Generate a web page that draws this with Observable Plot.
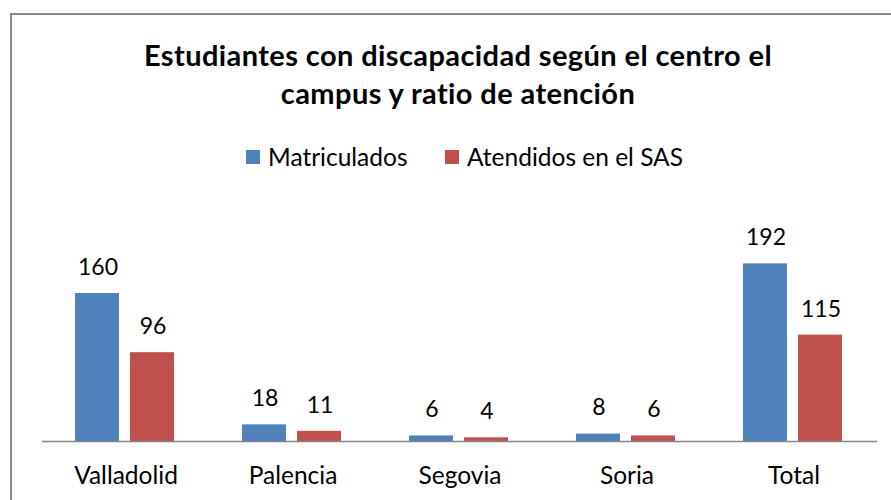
<!DOCTYPE html>
<html><head><meta charset="utf-8">
<script src="https://cdn.jsdelivr.net/npm/d3@7"></script>
<script src="https://cdn.jsdelivr.net/npm/@observablehq/plot@0.6"></script>
<style>
body{margin:0;background:#fff;font-family:Lato,"Open Sans",sans-serif}
#wrap{position:relative;width:891px;height:500px;overflow:hidden;background:#fff}
#frame{position:absolute;left:10px;top:13px;width:1000px;height:1000px;border:2px solid #8a8a8a;box-sizing:border-box}
.t{position:absolute;left:0;width:916px;text-align:center;font-weight:bold;font-size:29px;letter-spacing:0.4px;color:#000;line-height:29px;white-space:nowrap}
.sw{position:absolute;width:14px;height:14px}
.lt{position:absolute;font-size:24.5px;line-height:25px;color:#000;white-space:nowrap}
#chart{position:absolute;left:0;top:0}
</style></head>
<body>
<div id="wrap">
  <div id="frame"></div>
  <div class="t" id="t1" style="top:40px"></div>
  <div class="t" id="t2" style="top:78px"></div>
  <div id="legend"></div>
  <div id="chart"></div>
</div>
<script>
const titleLines = ["Estudiantes con discapacidad según el centro el", "campus y ratio de atención"];
const categories = ["Valladolid", "Palencia", "Segovia", "Soria", "Total"];
const series = ["Matriculados", "Atendidos en el SAS"];
const matriculados = [160, 18, 6, 8, 192];
const atendidos = [96, 11, 4, 6, 115];
const colors = ["#4F81BD", "#C0504D"];

document.getElementById("t1").textContent = titleLines[0];
document.getElementById("t2").textContent = titleLines[1];

// legend
const legend = document.getElementById("legend");
const legendPos = [{sw: 246, tx: 268}, {sw: 445, tx: 467}];
series.forEach((s, i) => {
  const sw = document.createElement("div");
  sw.className = "sw";
  sw.style.left = legendPos[i].sw + "px";
  sw.style.top = "150px";
  sw.style.background = colors[i];
  legend.appendChild(sw);
  const tx = document.createElement("div");
  tx.className = "lt";
  tx.style.left = legendPos[i].tx + "px";
  tx.style.top = "144px";
  tx.textContent = s;
  legend.appendChild(tx);
});

const data = [];
categories.forEach((c, i) => {
  data.push({cat: c, series: series[0], value: matriculados[i]});
  data.push({cat: c, series: series[1], value: atendidos[i]});
});

const chart = Plot.plot({
  width: 891,
  height: 500,
  marginLeft: 41,
  marginRight: 14,
  marginTop: 256,
  marginBottom: 59,
  style: {background: "transparent", color: "#000", fontFamily: "Lato, 'Open Sans', sans-serif", overflow: "visible"},
  fx: {domain: categories, padding: 0, label: null},
  x: {domain: series, paddingInner: 0.214, paddingOuter: 0.6, axis: null},
  y: {domain: [0, 200], axis: null},
  color: {domain: series, range: colors},
  marks: [
    Plot.barY(data, {fx: "cat", x: "series", y: "value", fill: "series", insetLeft: -1}),
    Plot.text(data, {fx: "cat", x: "series", y: "value", text: d => String(d.value), dy: -26, fontSize: 23, lineAnchor: "middle", fill: "#000"}),
    Plot.ruleY([0], {stroke: "#868686", strokeWidth: 1.5}),
    Plot.axisFx({anchor: "bottom", tickSize: 0, tickPadding: 25, fontSize: 24.5, label: null})
  ]
});
document.getElementById("chart").appendChild(chart);
</script>
</body></html>
